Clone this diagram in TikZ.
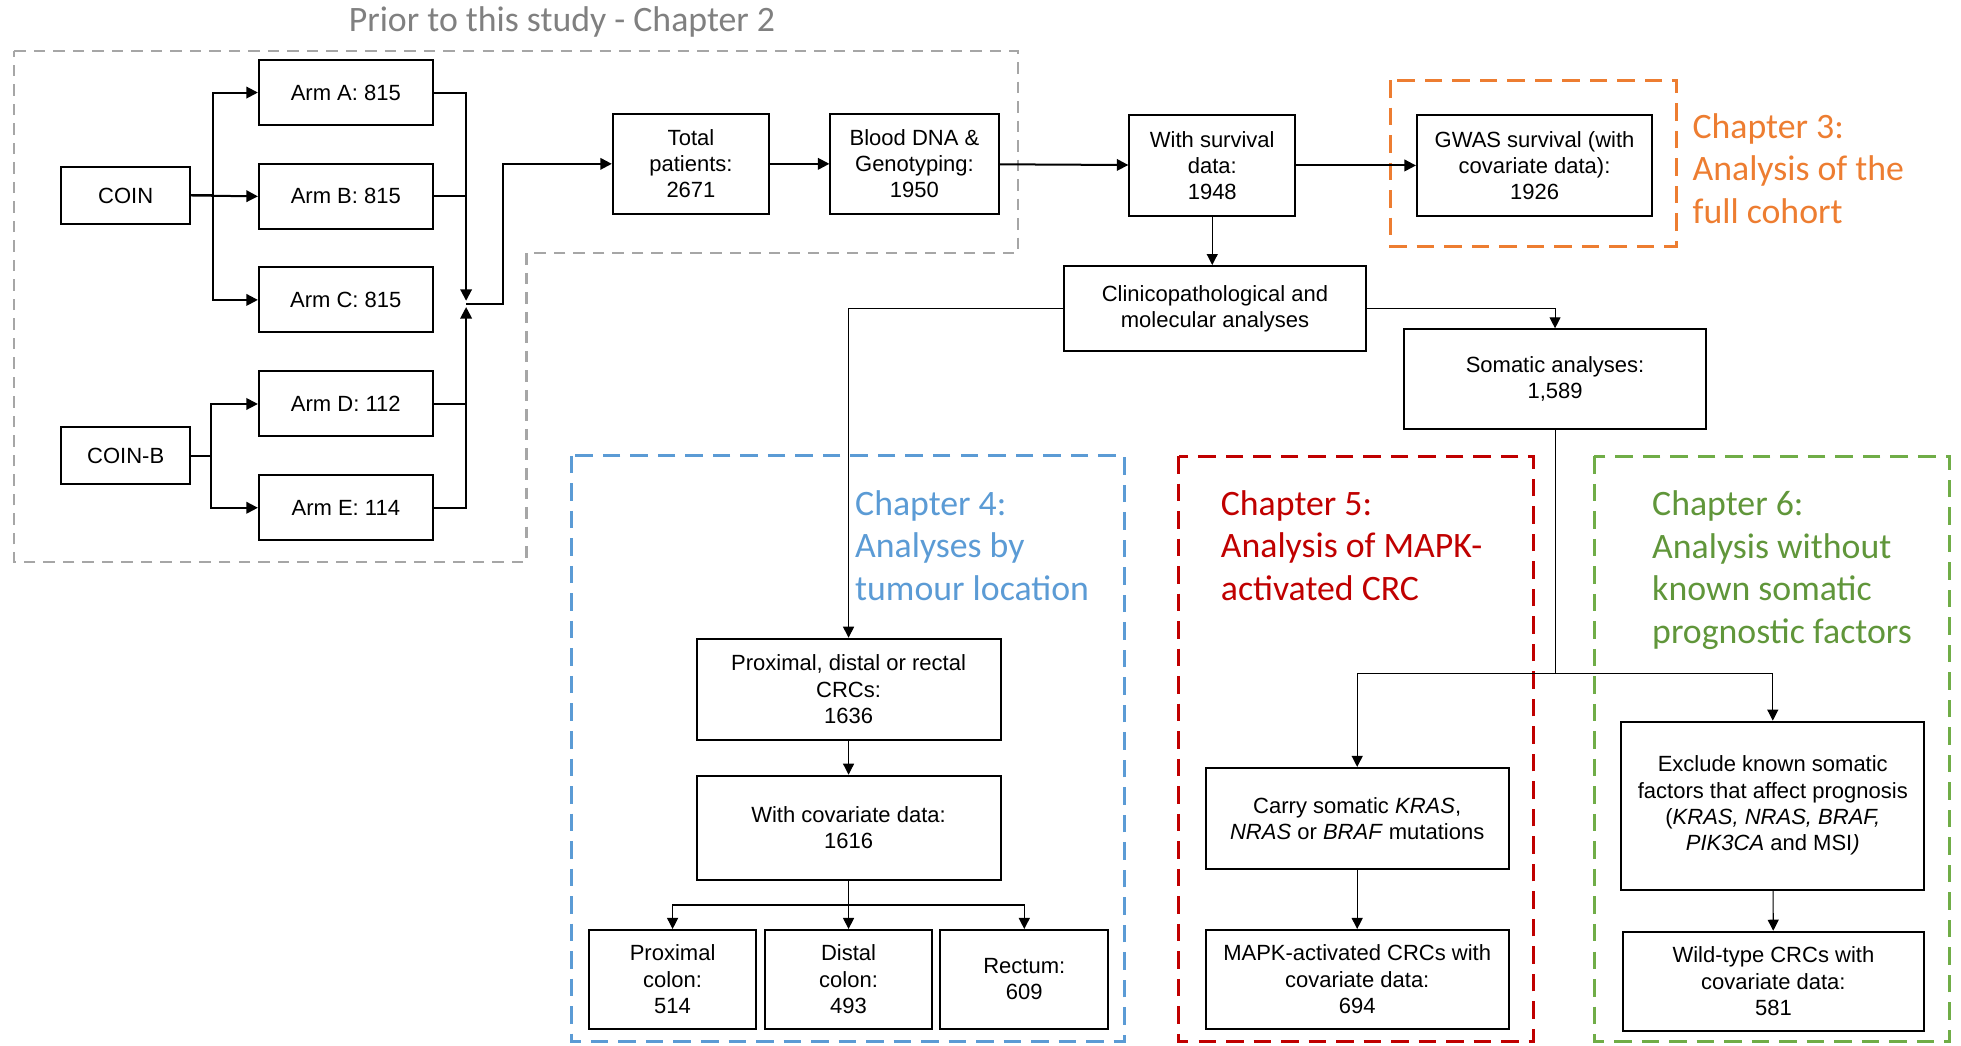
\documentclass[tikz,border=0pt]{standalone}
\usepackage{fontspec}
\setmainfont{Liberation Sans}
\newfontfamily\calibri{Carlito}
\usetikzlibrary{arrows.meta}
\definecolor{grayline}{RGB}{166,166,166}
\definecolor{graytext}{RGB}{128,128,128}
\definecolor{chorange}{RGB}{237,125,49}
\definecolor{chblue}{RGB}{91,155,213}
\definecolor{chred}{RGB}{192,0,0}
\definecolor{chgreen}{RGB}{112,173,71}
\definecolor{chgreentext}{RGB}{96,150,58}
\begin{document}
\begin{tikzpicture}[x=0.5pt,y=-0.5pt,
  box/.style={draw, line width=0.8pt, align=center, inner sep=0pt,
    font=\fontsize{8.8}{10.5}\selectfont},
  lineT/.style={line width=0.8pt},
  arrT/.style={line width=0.8pt, -{Triangle[length=4.6pt,width=4.6pt]}},
  lint/.style={line width=0.45pt},
  arrt/.style={line width=0.45pt, -{Triangle[length=4.4pt,width=4.4pt]}},
  chap/.style={anchor=base west, align=left, inner sep=0pt,
    font=\calibri\fontsize{14.3}{17}\selectfont},
  frameG/.style={draw=grayline, line width=0.85pt, dash pattern=on 4.6pt off 3.2pt},
  frameC/.style={line width=1.2pt, dash pattern=on 7pt off 4pt}
]
\useasboundingbox (0,0) rectangle (1568,836);

% dashed frames
\draw[frameG] (11.4,41) -- (814,41) -- (814,202.5) -- (421,202.5) -- (421,449.5) -- (11.4,449.5) -- cycle;
\draw[frameC, draw=chorange] (1111.5,64) rectangle (1340.6,196.7);
\draw[frameC, draw=chblue] (457,364.5) rectangle (899,833);
\draw[frameC, draw=chred] (942.6,364.7) rectangle (1226,833);
\draw[frameC, draw=chgreen] (1274.8,364.8) rectangle (1559,833);

% labels (anchor base = baseline of last line)
\node[chap, text=graytext] (title) at (278.5,25.3) {Prior to this study - Chapter 2};
\node[chap, text=chorange] (ch3) at (1353,178.6) {Chapter 3:\\Analysis of the\\full cohort};
\node[chap, text=chblue] (ch4) at (683.4,480) {Chapter 4:\\Analyses by\\tumour location};
\node[chap, text=chred] (ch5) at (975.8,480) {Chapter 5:\\Analysis of MAPK-\\activated CRC};
\node[chap, text=chgreentext] (ch6) at (1320.7,514.5) {Chapter 6:\\Analysis without\\known somatic\\prognostic factors};

% boxes
\node[box, minimum width=51.5pt, minimum height=22.7pt] (coin) at (100.5,156.3) {COIN};
\node[box, minimum width=51.5pt, minimum height=22.7pt] (coinb) at (100.5,364.3) {COIN-B};
\node[box, minimum width=69.5pt, minimum height=26pt] (armA) at (276.5,74) {Arm A: 815};
\node[box, minimum width=69.5pt, minimum height=26pt] (armB) at (276.5,157) {Arm B: 815};
\node[box, minimum width=69.5pt, minimum height=26pt] (armC) at (276.5,239.8) {Arm C: 815};
\node[box, minimum width=69.5pt, minimum height=26pt] (armD) at (276.5,323) {Arm D: 112};
\node[box, minimum width=69.5pt, minimum height=26pt] (armE) at (276.5,406) {Arm E: 114};
\node[box, minimum width=62.5pt, minimum height=40pt] (total) at (552.5,131) {Total\\patients:\\2671};
\node[box, minimum width=67.2pt, minimum height=40pt] (blood) at (731.2,131) {Blood DNA \&\\Genotyping:\\1950};
\node[box, minimum width=66.3pt, minimum height=40.3pt] (surv) at (969.3,132.3) {With survival\\data:\\1948};
\node[box, minimum width=94pt, minimum height=40.3pt] (gwas) at (1227,132.3) {GWAS survival (with\\covariate data):\\1926};
\node[box, minimum width=121pt, minimum height=34pt] (clin) at (971.5,246.7) {Clinicopathological and\\molecular analyses};
\node[box, minimum width=121pt, minimum height=39.9pt] (som) at (1243.4,303.2) {Somatic analyses:\\1,589};
\node[box, minimum width=121.5pt, minimum height=40.4pt] (prox) at (678.5,551.1) {Proximal, distal or rectal\\CRCs:\\1636};
\node[box, minimum width=121.5pt, minimum height=41.7pt] (wcov) at (678.5,661.9) {With covariate data:\\1616};
\node[box, minimum width=66.8pt, minimum height=39.4pt] (pcol) at (537.8,783) {Proximal\\colon:\\514};
\node[box, minimum width=66.5pt, minimum height=39.4pt] (dcol) at (678.5,783) {Distal\\colon:\\493};
\node[box, minimum width=67pt, minimum height=39.4pt] (rect) at (819,783) {Rectum:\\609};
\node[box, minimum width=121pt, minimum height=40.5pt] (carry) at (1085.2,654.5) {Carry somatic \textit{KRAS},\\\textit{NRAS} or \textit{BRAF} mutations};
\node[box, minimum width=121pt, minimum height=39.4pt] (mapk) at (1085.2,783) {MAPK-activated CRCs with\\covariate data:\\694};
\node[box, minimum width=121pt, minimum height=67.2pt] (excl) at (1417.5,644.2) {Exclude known somatic\\factors that affect prognosis\\(\textit{KRAS, NRAS, BRAF,}\\\textit{PIK3CA} and MSI\textit{)}};
\node[box, minimum width=120.5pt, minimum height=39.5pt] (wild) at (1418,784.5) {Wild-type CRCs with\\covariate data:\\581};

% connectors: COIN
\coordinate (cbr) at (170.5,156.3);
\draw[arrT] (coin.east) -- (cbr) |- (armA.west);
\draw[arrT] (cbr) |- (armC.west);
\draw[arrT] (coin.east) -- (armB.west);
\coordinate (cbbr) at (168.5,364.3);
\draw[lineT] (coinb.east) -- (cbbr);
\draw[arrT] (cbbr) |- (armD.west);
\draw[arrT] (cbbr) |- (armE.west);
% merge
\coordinate (mj) at (372.7,243);
\coordinate (mtop) at (372.7,240.5);
\coordinate (mbot) at (372.7,245.5);
\draw[arrT] (armA.east) -| (mtop);
\draw[lineT] (armB.east) -- (armB.east -| mj);
\draw[arrT] (armE.east) -| (mbot);
\draw[lineT] (armD.east) -- (armD.east -| mj);
\coordinate (mr) at (402,243);
\draw[arrT] (mj) -- (mr) |- (total.west);
% main chain
\draw[arrT] (total) -- (blood);
\draw[arrT] (blood) -- (surv);
\draw[arrT] (surv) -- (gwas);
\draw[arrt] (surv.south) -- (surv.south |- clin.north);
\draw[arrt] (clin.east) -| (som.north);
\draw[arrt] (clin.west) -| (prox.north);
\draw[arrt] (prox) -- (wcov);
\coordinate (wb) at (678.5,723.6);
\draw[lint] (wcov.south) -- (wb);
\draw[arrt] (wb) -| (pcol.north);
\draw[arrt] (wb) -- (dcol.north);
\draw[arrt] (wb) -| (rect.north);
\coordinate (sb) at (1243.4,538.5);
\draw[lint] (som.south) -- (sb);
\draw[arrt] (sb) -| (carry.north);
\draw[arrt] (sb) -| (excl.north);
\draw[arrt] (carry) -- (mapk);
\draw[arrt] (excl) -- (wild);
\end{tikzpicture}
\end{document}
